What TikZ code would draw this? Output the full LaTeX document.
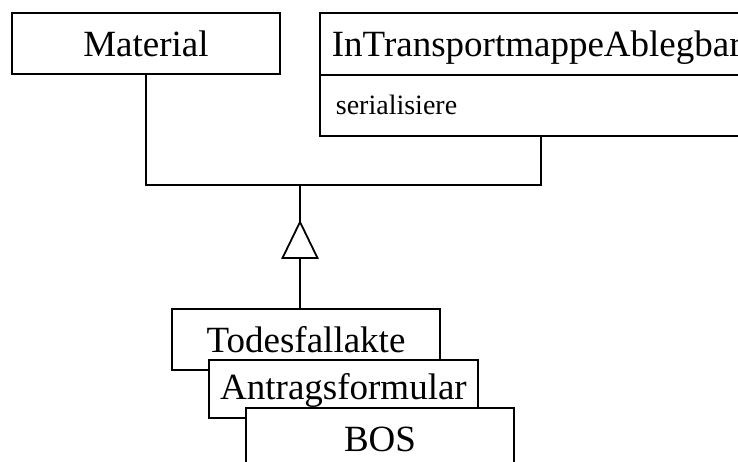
\documentclass[tikz,border=0pt]{standalone}
\usepackage{fontspec}
\setmainfont{Liberation Serif}
\usetikzlibrary{calc}
\begin{document}
\begin{tikzpicture}[x=1pt,y=-1pt,
  classbox/.style={draw, fill=white, line width=1.8pt, inner sep=0pt,
    minimum width=268pt, anchor=north,
    font=\fontsize{37}{44}\selectfont, text height=44pt, text depth=17pt},
  conn/.style={line width=1.8pt},
  genhead/.style={draw, fill=white, line width=1.8pt, line join=miter}]
  \path[use as bounding box, clip] (0,0) rectangle (738,462);

  % parent classes
  \node[classbox] (material) at (146,12) {Material};
  \node[draw, fill=white, line width=1.8pt, anchor=north west,
        inner xsep=12pt, inner ysep=0pt, text width=418pt, align=left,
        font=\fontsize{37}{44}\selectfont, text height=44pt, text depth=18pt]
        (transport) at (319,12) {InTransportmappeAblegbar};
  \node[draw, fill=white, line width=1.8pt, anchor=north west,
        inner xsep=16pt, inner ysep=0pt, text width=410pt, align=left,
        font=\fontsize{28}{34}\selectfont, text height=40pt, text depth=21pt]
        (tbody) at (319,74) {serialisiere};

  % junction and generalization arrow
  \coordinate (j) at (300,185);
  \coordinate (tip) at (300,222);
  \coordinate (base) at (300,258);

  \draw[conn] (material.south) |- (j) -| (tbody.south);
  \draw[conn] (j) -- (tip);

  % stacked subclasses
  \node[classbox] (tod) at (306,308) {Todesfallakte};
  \node[classbox, minimum width=269pt, text height=40pt, text depth=18pt] (antrag) at (343.5,359) {Antragsformular};
  \node[classbox] (bos) at (380,407) {BOS};

  \draw[conn] (tod.north -| base) -- (base);
  \draw[genhead] (tip) -- ($(base)+(-17.5,0)$) -- ($(base)+(17.5,0)$) -- cycle;
\end{tikzpicture}
\end{document}
